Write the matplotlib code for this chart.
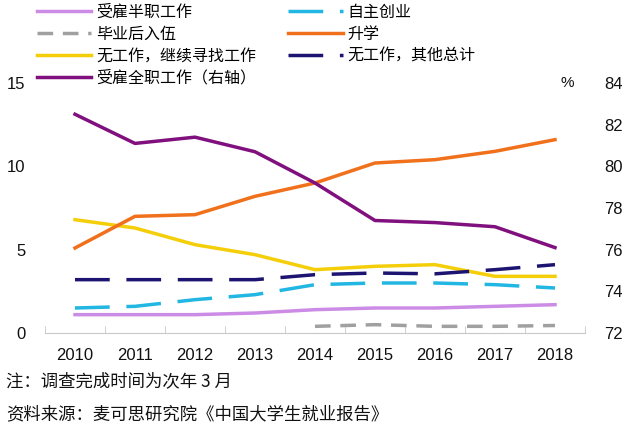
import numpy as np
import matplotlib
matplotlib.use('Agg')
import matplotlib.pyplot as plt

plt.rcParams['font.family'] = ['Noto Sans CJK SC', 'DejaVu Sans']

years = [2010, 2011, 2012, 2013, 2014, 2015, 2016, 2017, 2018]
part_time = [1.1, 1.1, 1.1, 1.2, 1.4, 1.5, 1.5, 1.6, 1.7]
self_emp = [1.5, 1.6, 2.0, 2.3, 2.9, 3.0, 3.0, 2.9, 2.7]
army = [np.nan, np.nan, np.nan, np.nan, 0.4, 0.5, 0.4, 0.4, 0.45]
study = [5.1, 7.0, 7.1, 8.2, 9.0, 10.2, 10.4, 10.9, 11.6]
seeking = [6.8, 6.3, 5.3, 4.7, 3.8, 4.0, 4.1, 3.4, 3.4]
other_nojob = [3.2, 3.2, 3.2, 3.2, 3.5, 3.6, 3.55, 3.8, 4.1]
full_time = [82.5, 81.1, 81.4, 80.7, 79.2, 77.4, 77.3, 77.1, 76.1]

left_ticks = [0, 5, 10, 15]
right_ticks = [72, 74, 76, 78, 80, 82, 84]

num_font = 'Liberation Sans'
lw = 2.5

fig = plt.figure(figsize=(6.4, 4.45), dpi=100)
ax = fig.add_axes([45/640, 112/445, 540/640, 250/445])
ax2 = ax.twinx()

h1, = ax.plot(years, part_time, color='#CC8CE6', lw=lw, label='受雇半职工作')
h2, = ax.plot(years, army, color='#A0A0A0', lw=lw, linestyle=(0, (4.5, 2.8)), label='毕业后入伍')
h3, = ax.plot(years, seeking, color='#F5CE0A', lw=lw, label='无工作，继续寻找工作')
h5, = ax.plot(years, self_emp, color='#22B6E2', lw=lw, linestyle=(0, (10, 4.8)), label='自主创业')
h6, = ax.plot(years, study, color='#F0701C', lw=lw, label='升学')
h7, = ax.plot(years, other_nojob, color='#1C1470', lw=lw, linestyle=(0, (10, 4.8)), label='无工作，其他总计')
h4, = ax2.plot(years, full_time, color='#80107E', lw=lw, label='受雇全职工作（右轴）')

ax.set_xlim(2009.5, 2018.5)
ax.set_ylim(0, 15)
ax2.set_ylim(72, 84)
ax.set_yticks(left_ticks)
ax2.set_yticks(right_ticks)
ax.set_xticks(years)
ax.set_xticks(np.arange(2009.5, 2019, 1), minor=True)

for a in (ax, ax2):
    for s in a.spines.values():
        s.set_visible(False)
ax.spines['bottom'].set_visible(True)
ax.spines['bottom'].set_color('#C8C8C8')

ax.tick_params(axis='x', which='major', length=0, pad=11, labelsize=12, labelcolor='#111111')
ax.tick_params(axis='x', which='minor', length=5, direction='in', color='#C8C8C8')
ax.tick_params(axis='y', length=0, pad=14, labelsize=12, labelcolor='#111111')
ax2.tick_params(axis='y', length=0, pad=14, labelsize=12, labelcolor='#111111')
for lab in ax.get_xticklabels() + ax.get_yticklabels() + ax2.get_yticklabels():
    lab.set_fontfamily(num_font)

fig.text(567/640, 1 - 83/445, '%', fontsize=11, family=num_font, ha='center', va='center', color='#111111')

fig.legend(handles=[h1, h2, h3, h4, h5, h6, h7], ncol=2, loc='upper left',
           bbox_to_anchor=(26/640, 1.016), frameon=False, fontsize=11.5,
           handlelength=3.4, handletextpad=0.3, columnspacing=2.0,
           labelspacing=0.3, borderpad=0.2)

fig.text(6/640, 1 - 381/445, '注：调查完成时间为次年 3 月', fontsize=12.5, va='center', color='#111111')
fig.text(6/640, 1 - 414/445, '资料来源：麦可思研究院《中国大学生就业报告》', fontsize=12.5, va='center', color='#111111')

fig.savefig('out.png', dpi=100)
